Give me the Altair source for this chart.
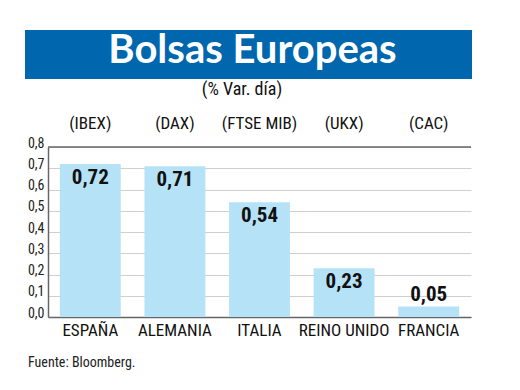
import altair as alt
import pandas as pd

countries = ["ESPAÑA", "ALEMANIA", "ITALIA", "REINO UNIDO", "FRANCIA"]
indices = ["(IBEX)", "(DAX)", "(FTSE MIB)", "(UKX)", "(CAC)"]
values = [0.72, 0.71, 0.54, 0.23, 0.05]
value_labels = ["0,72", "0,71", "0,54", "0,23", "0,05"]
y_ticks = [0.0, 0.1, 0.2, 0.3, 0.4, 0.5, 0.6, 0.7, 0.8]

title_text = "Bolsas Europeas"
subtitle_text = "(% Var. día)"
source_text = "Fuente: Bloomberg."

NARROW = "Liberation Sans Narrow, Roboto Condensed, DejaVu Sans Condensed, sans-serif"
BAR = "#B6E2F8"
BLUE = "#0067AF"

df = pd.DataFrame({"pais": countries, "indice": indices, "valor": values, "etiqueta": value_labels})

xscale = alt.Scale(domain=countries, paddingInner=0.28, paddingOuter=0.14)
yscale = alt.Scale(domain=[0, 0.8], nice=False)

x_axis = alt.Axis(title=None, labelAngle=0, ticks=False, grid=False,
                  domainColor="#666", domainWidth=1.5,
                  labelFont=NARROW, labelFontSize=17, labelColor="#111",
                  labelPadding=5)
y_axis = alt.Axis(title=None, values=y_ticks,
                  labelExpr="replace(format(datum.value,'.1f'),'.',',')",
                  labelOverlap=False, labelBound=False, labelFlush=False,
                  ticks=False, grid=True, gridColor="#cfcfcf",
                  domainColor="#666", domainWidth=1.5,
                  labelFont=NARROW, labelFontSize=14, labelColor="#222",
                  labelOffset=-4, labelPadding=4)

x = alt.X("pais:N", sort=countries, scale=xscale, axis=x_axis)
y = alt.Y("valor:Q", scale=yscale, axis=y_axis)

base = alt.Chart(df)

bars = base.mark_bar(color=BAR).encode(x=x, y=y)

top_rule = alt.Chart(pd.DataFrame({"valor": [0.8]})).mark_rule(
    color="#666", strokeWidth=1.5).encode(y=y)

inside = base.transform_filter("datum.valor >= 0.1").mark_text(
    font=NARROW, fontSize=21, fontWeight="bold", color="#111",
    baseline="middle", dy=14).encode(x=x, y=y, text="etiqueta:N")

above = base.transform_filter("datum.valor < 0.1").mark_text(
    font=NARROW, fontSize=21, fontWeight="bold", color="#111",
    baseline="bottom", dy=-1).encode(x=x, y=y, text="etiqueta:N")

idx = base.mark_text(font=NARROW, fontSize=17, color="#111", baseline="middle").encode(
    x=x, y=alt.value(-23), text="indice:N")

banner = alt.Chart(pd.DataFrame({"b": [1]})).mark_rect(color=BLUE).encode(
    x=alt.value(-23), x2=alt.value(424), y=alt.value(-117), y2=alt.value(-68))

title = alt.Chart(pd.DataFrame({"t": [title_text]})).mark_text(
    font="Lato", fontSize=40, fontWeight="bold", color="white",
    baseline="alphabetic", align="center").encode(
    text="t:N", x=alt.value(204.5), y=alt.value(-84))

subtitle = alt.Chart(pd.DataFrame({"t": [subtitle_text]})).mark_text(
    font=NARROW, fontSize=18, color="#111", baseline="middle", align="center").encode(
    text="t:N", x=alt.value(194), y=alt.value(-57))

source = alt.Chart(pd.DataFrame({"t": [source_text]})).mark_text(
    font=NARROW, fontSize=14, color="#222", baseline="middle", align="left").encode(
    text="t:N", x=alt.value(-20), y=alt.value(216))

chart = alt.layer(bars, top_rule, inside, above, idx, banner, title, subtitle, source).properties(
    width=423, height=170,
    autosize=alt.AutoSizeParams(type="none"),
    padding={"left": 40, "top": 139, "right": 41, "bottom": 65},
    background="white",
).configure_view(stroke=None)

chart.save("out.html", embed_options={"renderer": "svg", "actions": False})
